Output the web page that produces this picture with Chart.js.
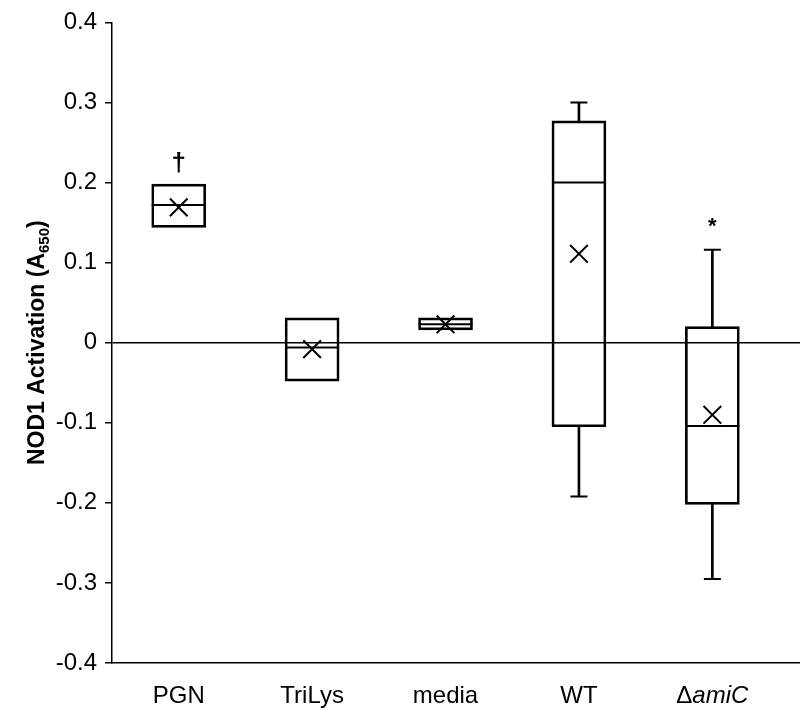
<!DOCTYPE html>
<html>
<head>
<meta charset="utf-8">
<script src="https://cdn.jsdelivr.net/npm/chart.js@4"></script>
<style>
  html, body { margin: 0; padding: 0; background: #fff; overflow: hidden; }
  #wrap { width: 800px; height: 711px; }
  canvas { display: block; }
</style>
</head>
<body>
<div id="wrap"><canvas id="chart"></canvas></div>
<script>
// box plot values
var categories = ['PGN', 'TriLys', 'media', 'WT', '\u0394amiC'];
var q1Values = [0.144, -0.048, 0.016, -0.105, -0.202];
var q3Values = [0.198, 0.031, 0.031, 0.277, 0.020];
var medianValues = [0.172, -0.006, 0.023, 0.200, -0.104];
var meanValues = [0.169, -0.008, 0.023, 0.111, -0.090];
var whiskerMin = [null, null, null, -0.192, -0.295];
var whiskerMax = [null, null, null, 0.300, 0.116];
var markLabels = ['\u2020', '', '', '', '*'];
var markValues = [0.224, null, null, null, 0.145];
var yTicks = [0.4, 0.3, 0.2, 0.1, 0, -0.1, -0.2, -0.3, -0.4];

var family = "Arial, 'Liberation Sans', sans-serif";
Chart.defaults.font.family = family;
Chart.defaults.color = '#000';

function points(values) {
    var out = [];
    values.forEach(function (v, i) {
        if (v !== null) out.push({ x: i + 1, y: v });
    });
    return out;
}

function ranges(lo, hi) {
    var out = [];
    lo.forEach(function (v, i) {
        if (v !== null && hi[i] !== null) out.push({ x: i + 1, y: [v, hi[i]] });
    });
    return out;
}

var textPlugin = {
    id: 'texts',
    afterDraw: function (chart) {
        var ctx = chart.ctx;
        var xs = chart.scales.x;
        var ys = chart.scales.y;
        var area = chart.chartArea;
        ctx.save();
        ctx.fillStyle = '#000';

        // category labels
        ctx.textBaseline = 'alphabetic';
        categories.forEach(function (c, i) {
            var x = xs.getPixelForValue(i + 1);
            var y = area.bottom + 40;
            if (c.charAt(0) === '\u0394') {
                ctx.font = '24px ' + family;
                var w1 = ctx.measureText('\u0394').width;
                ctx.font = 'italic 24px ' + family;
                var w2 = ctx.measureText(c.slice(1)).width;
                var start = x - (w1 + w2) / 2;
                ctx.textAlign = 'left';
                ctx.font = '24px ' + family;
                ctx.fillText('\u0394', start, y);
                ctx.font = 'italic 24px ' + family;
                ctx.fillText(c.slice(1), start + w1, y);
            } else {
                ctx.font = '24px ' + family;
                ctx.textAlign = 'center';
                ctx.fillText(c, x, y);
            }
        });

        // significance marks
        ctx.textAlign = 'center';
        ctx.textBaseline = 'middle';
        markLabels.forEach(function (m, i) {
            if (!m) return;
            ctx.font = 'bold ' + (m === '*' ? '22px ' : '26px ') + family;
            ctx.fillText(m, xs.getPixelForValue(i + 1), ys.getPixelForValue(markValues[i]));
        });

        // y axis title with subscript
        ctx.translate(36, (area.top + area.bottom) / 2);
        ctx.rotate(-Math.PI / 2);
        ctx.textAlign = 'left';
        ctx.textBaseline = 'alphabetic';
        var parts = [
            { t: 'NOD1 Activation (A', f: 'bold 23px ', dy: 0 },
            { t: '650', f: 'bold 15px ', dy: 5 },
            { t: ')', f: 'bold 23px ', dy: 0 }
        ];
        var total = 0;
        parts.forEach(function (p) {
            ctx.font = p.f + family;
            p.w = ctx.measureText(p.t).width;
            total += p.w;
        });
        var px = -total / 2;
        parts.forEach(function (p) {
            ctx.font = p.f + family;
            ctx.fillText(p.t, px, 8 + p.dy);
            px += p.w;
        });
        ctx.restore();
    }
};

var ctx = document.getElementById('chart').getContext('2d');
var chart = new Chart(ctx, {
    type: 'bar',
    data: {
        datasets: [
            {
                label: 'box',
                data: ranges(q1Values, q3Values),
                backgroundColor: 'rgba(0,0,0,0)',
                borderColor: '#000',
                borderWidth: 2,
                borderSkipped: false,
                barThickness: 54,
                grouped: false
            },
            {
                label: 'upper whisker',
                data: ranges(q3Values, whiskerMax),
                backgroundColor: '#000',
                borderWidth: 0,
                barThickness: 2,
                grouped: false
            },
            {
                label: 'lower whisker',
                data: ranges(whiskerMin, q1Values),
                backgroundColor: '#000',
                borderWidth: 0,
                barThickness: 2,
                grouped: false
            },
            {
                type: 'scatter',
                label: 'caps',
                data: points(whiskerMax).concat(points(whiskerMin)),
                pointStyle: 'line',
                pointRadius: 8.5,
                pointBorderWidth: 2,
                pointBorderColor: '#000'
            },
            {
                type: 'scatter',
                label: 'median',
                data: points(medianValues),
                pointStyle: 'line',
                pointRadius: 27,
                pointBorderWidth: 2,
                pointBorderColor: '#000'
            },
            {
                type: 'scatter',
                label: 'mean',
                data: points(meanValues),
                pointStyle: 'crossRot',
                pointRadius: 12.5,
                pointBorderWidth: 2,
                pointBorderColor: '#000'
            }
        ]
    },
    options: {
        responsive: true,
        maintainAspectRatio: false,
        animation: false,
        devicePixelRatio: 1,
        events: [],
        layout: { autoPadding: false, padding: { top: 18, right: 0, bottom: 0, left: 0 } },
        plugins: {
            legend: { display: false },
            tooltip: { enabled: false }
        },
        scales: {
            x: {
                type: 'linear',
                offset: false,
                min: 0.5,
                max: 5.657,
                afterBuildTicks: function (scale) {
                    scale.ticks = categories.map(function (c, i) { return { value: i + 1 }; });
                },
                afterFit: function (scale) { scale.height = 48; },
                ticks: { display: false },
                grid: { display: false },
                border: { display: true, color: '#000', width: 1.5 }
            },
            y: {
                min: -0.4,
                max: 0.4,
                afterBuildTicks: function (scale) {
                    scale.ticks = yTicks.map(function (v) { return { value: v }; });
                },
                afterFit: function (scale) { scale.width = 112; },
                ticks: {
                    padding: 8,
                    font: { size: 24 },
                    callback: function (v) { return v === 0 ? '0' : v.toFixed(1); }
                },
                grid: {
                    color: function (c) { return c.tick && c.tick.value === 0 ? '#000' : 'rgba(0,0,0,0)'; },
                    lineWidth: 1.5,
                    tickColor: '#000',
                    tickWidth: 1.5,
                    tickLength: 7
                },
                border: { display: true, color: '#000', width: 1.5 }
            }
        }
    },
    plugins: [textPlugin]
});
</script>
</body>
</html>
